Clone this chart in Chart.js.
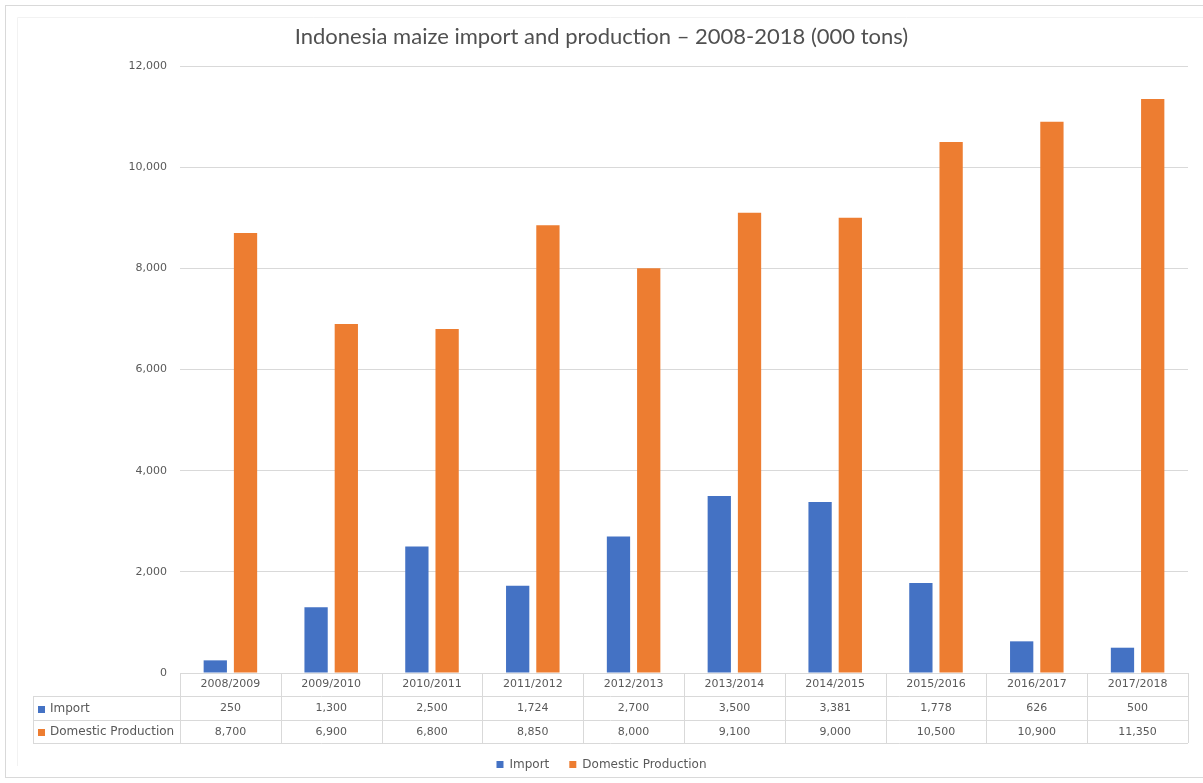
<!DOCTYPE html>
<html lang="en">
<head>
    <meta charset="UTF-8">
    <title>Indonesia maize import and production</title>
    <script src="https://cdn.jsdelivr.net/npm/chart.js@4.4.1/dist/chart.umd.min.js"></script>
    <style>
        html, body {
            margin: 0;
            padding: 0;
            background: #fff;
        }
        #wrap {
            width: 1203px;
            height: 783px;
        }
    </style>
</head>
<body>
    <div id="wrap"><canvas id="canvas" width="1203" height="783"></canvas></div>

    <script>
        // Data (000 tons)
        const seasons = ["2008/2009", "2009/2010", "2010/2011", "2011/2012", "2012/2013",
                         "2013/2014", "2014/2015", "2015/2016", "2016/2017", "2017/2018"];
        const importTons = [250, 1300, 2500, 1724, 2700, 3500, 3381, 1778, 626, 500];
        const productionTons = [8700, 6900, 6800, 8850, 8000, 9100, 9000, 10500, 10900, 11350];
        const yTicks = [0, 2000, 4000, 6000, 8000, 10000, 12000];

        const textColor = '#595959';
        const lineColor = '#d9d9d9';

        // Excel style data table under the plot, drawn from the x scale
        const dataTable = {
            id: 'dataTable',
            beforeDraw(chart) {
                const ctx = chart.ctx;
                ctx.save();
                ctx.strokeStyle = lineColor;
                ctx.lineWidth = 1;
                ctx.strokeRect(5.5, 5.5, 1210, 772);
                ctx.strokeStyle = '#f2f2f2';
                ctx.beginPath();
                ctx.moveTo(17.5, 17.5);
                ctx.lineTo(1203, 17.5);
                ctx.moveTo(17.5, 17.5);
                ctx.lineTo(17.5, 766);
                ctx.stroke();
                ctx.restore();
            },
            afterDraw(chart) {
                const {ctx, chartArea} = chart;
                const x = chart.scales.x;
                const half = (x.getPixelForValue(1) - x.getPixelForValue(0)) / 2;
                const left = 33;
                const right = chartArea.right;
                const rows = [chartArea.bottom, chartArea.bottom + 23, chartArea.bottom + 47, chartArea.bottom + 70];

                ctx.save();
                ctx.strokeStyle = lineColor;
                ctx.lineWidth = 1;
                ctx.beginPath();
                rows.forEach((y, i) => {
                    const yy = Math.round(y) + 0.5;
                    ctx.moveTo(i === 0 ? chartArea.left : left, yy);
                    ctx.lineTo(right, yy);
                });
                for (let i = 0; i <= seasons.length; i++) {
                    const xx = Math.round(x.getPixelForValue(i) - half) + 0.5;
                    ctx.moveTo(xx, rows[0]);
                    ctx.lineTo(xx, rows[3]);
                }
                ctx.moveTo(left + 0.5, rows[1]);
                ctx.lineTo(left + 0.5, rows[3]);
                ctx.stroke();

                ctx.textBaseline = 'middle';
                chart.data.datasets.forEach((ds, r) => {
                    const yc = (rows[r + 1] + rows[r + 2]) / 2 + 0.5;
                    ctx.fillStyle = ds.backgroundColor;
                    ctx.fillRect(38, Math.round(yc) - 3, 7, 7);
                    ctx.fillStyle = textColor;
                    ctx.textAlign = 'left';
                    ctx.font = '12px "DejaVu Sans"';
                    ctx.fillText(ds.label, 50, yc);
                    ctx.textAlign = 'center';
                    ctx.font = '11px "DejaVu Sans"';
                    ds.data.forEach((v, i) => {
                        ctx.fillText(v.toLocaleString('en-US'), x.getPixelForValue(i), yc);
                    });
                });
                ctx.restore();
            }
        };

        const ctx = document.getElementById('canvas').getContext('2d');
        new Chart(ctx, {
            type: 'bar',
            data: {
                labels: seasons,
                datasets: [
                    {
                        label: 'Import',
                        data: importTons,
                        backgroundColor: '#4472c4',
                        categoryPercentage: 0.6,
                        barPercentage: 0.77
                    },
                    {
                        label: 'Domestic Production',
                        data: productionTons,
                        backgroundColor: '#ed7d31',
                        categoryPercentage: 0.6,
                        barPercentage: 0.77
                    }
                ]
            },
            options: {
                responsive: false,
                animation: false,
                layout: {
                    padding: {top: 0, right: 15, bottom: 2.5, left: 15}
                },
                scales: {
                    x: {
                        grid: {display: false, drawTicks: false},
                        border: {display: false},
                        ticks: {
                            color: textColor,
                            font: {family: 'DejaVu Sans', size: 11},
                            padding: 5,
                            maxRotation: 0,
                            autoSkip: false
                        },
                        afterFit(scale) {
                            scale.height = 65.5;
                        }
                    },
                    y: {
                        min: 0,
                        max: 12000,
                        afterBuildTicks(scale) {
                            scale.ticks = yTicks.map(v => ({value: v}));
                        },
                        grid: {color: lineColor, drawTicks: false},
                        border: {display: false},
                        ticks: {
                            color: textColor,
                            font: {family: 'DejaVu Sans', size: 11},
                            padding: 13
                        },
                        afterFit(scale) {
                            scale.width = 165;
                        }
                    }
                },
                plugins: {
                    title: {
                        display: true,
                        text: 'Indonesia maize import and production \u2013 2008-2018 (000 tons)',
                        color: '#505050',
                        font: {family: 'Lato', size: 22, weight: 'normal', lineHeight: 1.2},
                        padding: {top: 24, bottom: 15.6}
                    },
                    legend: {
                        position: 'bottom',
                        labels: {
                            color: textColor,
                            font: {family: 'DejaVu Sans', size: 12},
                            boxWidth: 7,
                            boxHeight: 7,
                            padding: 20
                        }
                    },
                    tooltip: {enabled: false}
                }
            },
            plugins: [dataTable]
        });
    </script>
</body>
</html>
